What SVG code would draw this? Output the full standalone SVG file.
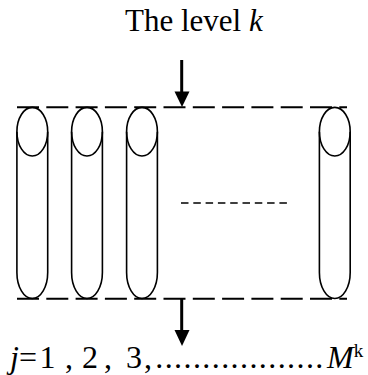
<svg xmlns="http://www.w3.org/2000/svg" width="368" height="375" viewBox="0 0 368 375">
  <style>
    .cyl { fill: none; stroke: #000; stroke-width: 1.6; }
    .lvl { fill: none; stroke: #000; stroke-width: 2; stroke-dasharray: 22 7.3; }
    .mid { fill: none; stroke: #000; stroke-width: 1.6; stroke-dasharray: 7.5 4.8; }
    .t { font-family: "Liberation Serif", "Times New Roman", serif; fill: #000; }
    .it { font-style: italic; }
  </style>
  <rect width="368" height="375" fill="#fff"/>
  <g id="title">
    <text class="t" x="125" y="31" font-size="31">The level <tspan class="it">k</tspan></text>
  </g>
  <g id="levels">
    <line class="lvl" x1="17" y1="107.3" x2="347" y2="107.3"/>
    <line class="lvl" x1="17" y1="298.7" x2="347" y2="298.7"/>
  </g>
  <g id="cylinder1">
    <ellipse class="cyl" cx="32.3" cy="131.7" rx="15.4" ry="24.3"/>
    <path class="cyl" d="M16.9,131.7 V272.5 A15.4,26 0 0 0 47.7,272.5 V131.7"/>
  </g>
  <g id="cylinder2">
    <ellipse class="cyl" cx="87" cy="131.7" rx="15.4" ry="24.3"/>
    <path class="cyl" d="M71.6,131.7 V272.5 A15.4,26 0 0 0 102.4,272.5 V131.7"/>
  </g>
  <g id="cylinder3">
    <ellipse class="cyl" cx="142" cy="131.7" rx="15.4" ry="24.3"/>
    <path class="cyl" d="M126.6,131.7 V272.5 A15.4,26 0 0 0 157.4,272.5 V131.7"/>
  </g>
  <g id="cylinderM">
    <ellipse class="cyl" cx="334.8" cy="131.7" rx="15.4" ry="24.3"/>
    <path class="cyl" d="M319.4,131.7 V272.5 A15.4,26 0 0 0 350.2,272.5 V131.7"/>
  </g>
  <g id="connectors">
    <line x1="181.7" y1="60" x2="181.7" y2="93" stroke="#000" stroke-width="3"/>
    <polygon points="174.5,91.5 189.5,91.5 182,107" fill="#000"/>
    <line x1="181.7" y1="298" x2="181.7" y2="331" stroke="#000" stroke-width="3"/>
    <polygon points="174.5,330 189.5,330 182,346" fill="#000"/>
    <line class="mid" x1="181" y1="203" x2="287" y2="203"/>
  </g>
  <g id="index" class="t">
    <text y="368" font-size="32"><tspan class="it" x="10">j</tspan><tspan x="19 39.5 55.5 65 73 82 98 104 112 126 144">=1 , 2 , 3,</tspan></text>
    <text x="155.3" y="368" font-size="32" textLength="168" lengthAdjust="spacing">..................</text>
    <text x="327" y="368" font-size="32"><tspan class="it">M</tspan><tspan font-size="19" dy="-11">k</tspan></text>
  </g>
</svg>
